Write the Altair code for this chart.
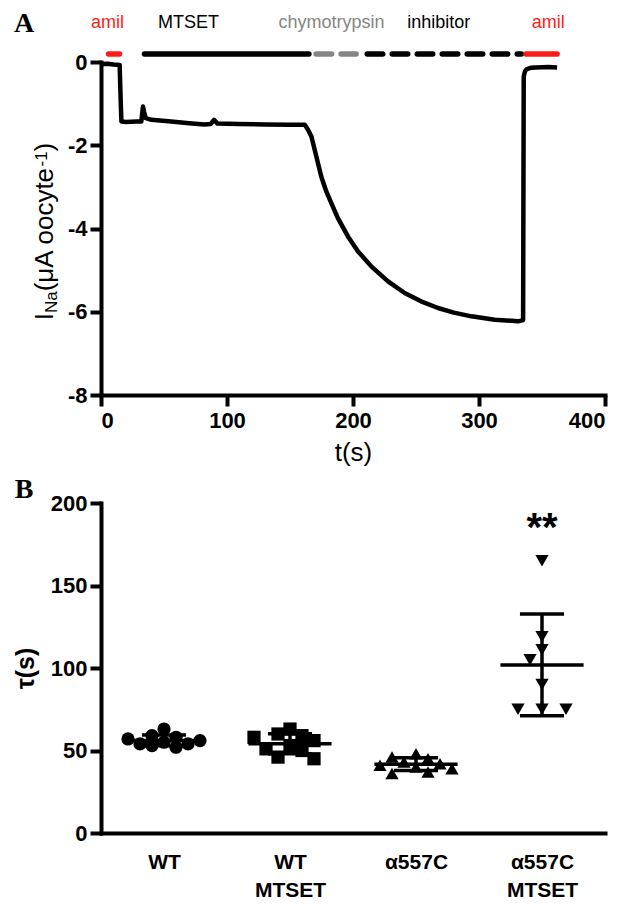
import json
import altair as alt
import pandas as pd

# ---------------- Panel A: current trace ----------------
trace_t = [1, 5, 10, 14.8, 15.5, 16.2, 20, 28, 32, 33.3, 34.2, 35.5, 40, 55.7, 70, 82,
           87, 89.7, 92.5, 109, 130, 150, 159, 161.7, 164.3, 167, 170.9, 174.8, 178.8,
           182.8, 188, 196, 204, 214.5, 227.8, 241, 254, 267.5, 280, 294, 312.5, 331,
           335, 335.5, 336.5, 338, 341, 345, 355, 362]
trace_i = [-0.05, -0.04, -0.06, -0.07, -0.8, -1.43, -1.44, -1.43, -1.43, -1.07, -1.2,
           -1.35, -1.39, -1.43, -1.47, -1.5, -1.49, -1.39, -1.48, -1.49, -1.5, -1.51,
           -1.51, -1.51, -1.63, -1.79, -2.27, -2.75, -3.11, -3.39, -3.75, -4.19, -4.55,
           -4.91, -5.27, -5.55, -5.75, -5.91, -6.02, -6.11, -6.19, -6.23, -6.2, -0.35,
           -0.22, -0.17, -0.14, -0.13, -0.12, -0.13]

# protocol (solution applications)
phase_label = ["amil", "MTSET", "chymotrypsin", "inhibitor", "amil"]
phase_start = [6, 34.5, 170.7, 211.3, 337.3]
phase_end = [14.7, 165, 202.5, 333.7, 362]
phase_label_t = [5.2, 69.5, 183, 268, 355]
bar_level = 0.19
label_level = 0.94

# ---------------- Panel B: time constants ----------------
groups = ["WT", "WT MTSET", "α557C", "α557C MTSET"]
tau_wt = [63, 59, 58, 57, 56, 55, 54, 54, 53, 52]
tau_wt_mtset = [63, 60, 59, 58, 56, 53, 51, 50, 46, 45]
tau_a557c = [48, 46, 45, 43, 42, 41, 40, 39, 37, 36]
tau_a557c_mtset = [165, 119, 111, 105, 90, 75, 75, 75]
tau_values = [tau_wt, tau_wt_mtset, tau_a557c, tau_a557c_mtset]
stars_text = "**"
stars_level = 177

# ---------------- layout constants ----------------
W = 504
HA = 333
HB = 330
FONT = "Liberation Sans"
SERIF = "Liberation Serif"

RED = "#ff1a1a"
GRAY = "#858585"

# ---------- panel A ----------
df_trace = pd.DataFrame({"t": trace_t, "I": trace_i})
df_phase = pd.DataFrame({"label": phase_label, "start": phase_start, "end": phase_end,
                         "lt": phase_label_t})

xA = alt.Scale(domain=[0, 400], nice=False)
yA = alt.Scale(domain=[-8, 0], nice=False)

kinds = ["amil", "MTSET", "chymotrypsin", "inhibitor"]
line = alt.Chart(df_trace).mark_line(color="black", strokeWidth=4.5, strokeJoin="round").encode(
    x=alt.X("t:Q", scale=xA,
            axis=alt.Axis(values=[0, 100, 200, 300, 400], title="t(s)", titleFontSize=26,
                          titleFontWeight="normal", titlePadding=8, labelPadding=4,
                          labelExpr="'' + datum.value")),
    y=alt.Y("I:Q", scale=yA,
            axis=alt.Axis(values=[-8, -6, -4, -2, 0], title=None, labelPadding=3,
                          labelExpr="'' + datum.value")),
    order="t:Q",
)

bars = alt.Chart(df_phase).mark_rule(strokeWidth=5.5, strokeCap="round").encode(
    x=alt.X("start:Q", scale=xA),
    x2="end:Q",
    y=alt.datum(bar_level),
    color=alt.Color("label:N", scale=alt.Scale(domain=kinds, range=[RED, "black", GRAY, "black"]),
                    legend=None),
    strokeDash=alt.StrokeDash("label:N", scale=alt.Scale(
        domain=kinds, range=[[1, 0], [1, 0], [15.5, 9.5], [15.5, 9.5]]), legend=None),
)

labels = alt.Chart(df_phase).mark_text(font=FONT, fontSize=18, baseline="middle").encode(
    x=alt.X("lt:Q", scale=xA),
    y=alt.datum(label_level),
    text="label:N",
    color=alt.Color("label:N", scale=alt.Scale(domain=kinds, range=[RED, "black", GRAY, "black"]),
                    legend=None),
)

one = pd.DataFrame({"k": [0]})


def txt(s, x, y, size, angle=0, align="center", baseline="middle", font=FONT, weight="normal"):
    return alt.Chart(one).mark_text(
        text=s, fontSize=size, angle=angle, align=align, baseline=baseline,
        font=font, fontWeight=weight, color="black"
    ).encode(x=alt.value(x), y=alt.value(y))


# composite rotated y-axis title: I_Na(μA oocyte^-1)
adv = {"I": 0.278, "N": 0.722, "a": 0.556, "(": 0.333, ")": 0.333, "μ": 0.576, "A": 0.667,
       " ": 0.278, "o": 0.556, "c": 0.5, "y": 0.5, "t": 0.278, "e": 0.556, "-": 0.333, "1": 0.556}


def width(s, f):
    return sum(adv.get(ch, 0.55) for ch in s) * f


F_MAIN, F_SMALL = 26, 17
pieces = [("I", F_MAIN, 0), ("Na", F_SMALL, 4), ("(μA oocyte", F_MAIN, 0),
          ("-1", F_SMALL, -6), (")", F_MAIN, 0)]
total = sum(width(s, f) for s, f, _ in pieces)
ycur = HA / 2 + 3 + total / 2
base_x = -48
title_layers = []
for s, f, dx in pieces:
    title_layers.append(txt(s, base_x + dx, ycur, f, angle=270, align="left",
                            baseline="alphabetic"))
    ycur -= width(s, f)

letterA = txt("A", -77, -38, 28, font=SERIF, weight="bold")

panelA = alt.layer(bars, labels, line, letterA, *title_layers).properties(width=W, height=HA)

# ---------- panel B ----------
band = W / 4.0
px_per_unit = HB / 200.0


def swarm(vals, step=12.0, min_d=12.5, max_steps=3):
    """Simple deterministic beeswarm layout (horizontal pixel offsets)."""
    placed = []
    offs = [0.0] * len(vals)
    order = sorted(range(len(vals)), key=lambda i: -vals[i])
    cands = [0.0]
    for j in range(1, max_steps + 1):
        cands += [-j * step, j * step]
    for i in order:
        y = vals[i] * px_per_unit
        best, best_d = None, -1
        for c in cands:
            d = min([((c - px) ** 2 + (y - py) ** 2) ** 0.5 for px, py in placed] or [1e9])
            if d >= min_d:
                best = c
                break
            if d > best_d:
                best, best_d = c, d
        offs[i] = best
        placed.append((best, y))
    return offs


rows = []
for gi, (g, vals) in enumerate(zip(groups, tau_values)):
    offs = swarm(vals)
    for v, o in zip(vals, offs):
        rows.append({"group": g, "idx": gi, "tau": v, "xpos": gi + o / band})
df_b = pd.DataFrame(rows)

xB = alt.Scale(domain=[-0.5, 3.5], nice=False, zero=False)
yB = alt.Scale(domain=[0, 200], nice=False)

label_expr = ""
for gi, g in enumerate(groups):
    arr = json.dumps(g.split(" "), ensure_ascii=False).replace('"', "'")
    label_expr += f"datum.value == {gi} ? {arr} : "
label_expr += "''"

points = alt.Chart(df_b).mark_point(filled=True, opacity=1, size=175, color="black").encode(
    x=alt.X("xpos:Q", scale=xB,
            axis=alt.Axis(values=[0, 1, 2, 3], labelExpr=label_expr, ticks=False, title=None,
                          labelFontSize=21, labelLineHeight=28, labelPadding=18)),
    y=alt.Y("tau:Q", scale=yB,
            axis=alt.Axis(values=[0, 50, 100, 150, 200], title="τ(s)", titleFontSize=25,
                          titleFontWeight="bold", titlePadding=12, labelPadding=3)),
    shape=alt.Shape("group:N", scale=alt.Scale(
        domain=groups, range=["circle", "square", "triangle-up", "triangle-down"]), legend=None),
)

stats = alt.Chart(df_b).transform_aggregate(
    m="mean(tau)", sd="stdev(tau)", groupby=["idx"]
).transform_calculate(
    lo="datum.m - datum.sd", hi="datum.m + datum.sd",
    ml="datum.idx - 0.33", mr="datum.idx + 0.33",
    cl="datum.idx - 0.175", cr="datum.idx + 0.175",
)

mean_rule = stats.mark_rule(color="black", strokeWidth=3.5).encode(
    x=alt.X("ml:Q", scale=xB), x2="mr:Q", y=alt.Y("m:Q", scale=yB))
sd_rule = stats.mark_rule(color="black", strokeWidth=3.5).encode(
    x=alt.X("idx:Q", scale=xB), y=alt.Y("lo:Q", scale=yB), y2="hi:Q")
cap_hi = stats.mark_rule(color="black", strokeWidth=3.5).encode(
    x=alt.X("cl:Q", scale=xB), x2="cr:Q", y=alt.Y("hi:Q", scale=yB))
cap_lo = stats.mark_rule(color="black", strokeWidth=3.5).encode(
    x=alt.X("cl:Q", scale=xB), x2="cr:Q", y=alt.Y("lo:Q", scale=yB))

df_star = pd.DataFrame({"idx": [3], "y": [stars_level], "s": [stars_text]})
stars = alt.Chart(df_star).mark_text(font=FONT, fontWeight="bold", fontSize=40,
                                     baseline="alphabetic").encode(
    x=alt.X("idx:Q", scale=xB), y=alt.Y("y:Q", scale=yB), text="s:N")

letterB = txt("B", -77, -13, 28, font=SERIF, weight="bold")

panelB = alt.layer(points, sd_rule, mean_rule, cap_hi, cap_lo, stars, letterB).properties(
    width=W, height=HB)

chart = alt.vconcat(panelA, panelB, spacing=108, bounds="flush").properties(
    padding={"left": 5, "top": 2, "right": 2, "bottom": 2}, background="white"
).configure_view(stroke=None).configure_axis(
    domainColor="black", domainWidth=4, domainCap="square", tickColor="black", tickWidth=4,
    tickSize=11, labelFont=FONT, labelFontWeight="bold", labelFontSize=22, labelColor="black",
    titleFont=FONT, titleColor="black", grid=False,
)

chart.save("out.html", embed_options={"renderer": "svg", "actions": False})
